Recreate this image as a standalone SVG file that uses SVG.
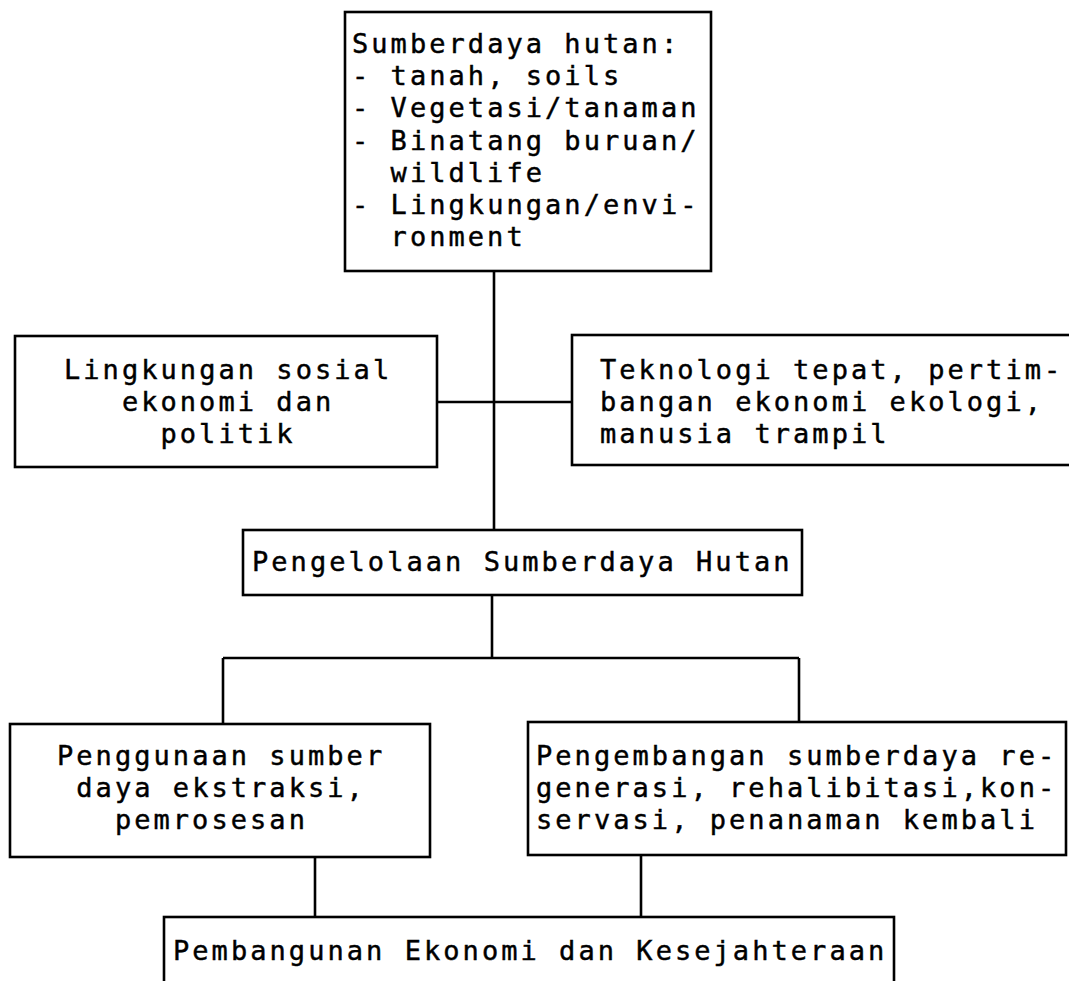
<svg xmlns="http://www.w3.org/2000/svg" width="1069" height="981" viewBox="0 0 1069 981">
<style>
.box{fill:#fff;stroke:#000;stroke-width:2.6}
.ln{fill:none;stroke:#000;stroke-width:2.6}
text{font-family:"DejaVu Sans Mono","Liberation Mono",monospace;font-size:27px;letter-spacing:3.05px;fill:#000;stroke:#000;stroke-width:0.45}
</style>
<rect width="1069" height="981" fill="#fff"/>
<g id="connectors">
<line class="ln" x1="494" y1="271" x2="494" y2="530"/>
<line class="ln" x1="437" y1="402" x2="572" y2="402"/>
<line class="ln" x1="492" y1="595" x2="492" y2="658"/>
<line class="ln" x1="223" y1="658" x2="799" y2="658"/>
<line class="ln" x1="223" y1="658" x2="223" y2="724"/>
<line class="ln" x1="799" y1="658" x2="799" y2="722"/>
<line class="ln" x1="315" y1="857" x2="315" y2="917"/>
<line class="ln" x1="641" y1="855" x2="641" y2="917"/>
</g>
<g id="sumberdaya">
<rect class="box" x="345" y="12" width="366" height="259"/>
<text x="352" y="53">Sumberdaya hutan:</text>
<text x="352" y="85">- tanah, soils</text>
<text x="352" y="117">- Vegetasi/tanaman</text>
<text x="352" y="150">- Binatang buruan/</text>
<text x="390.6" y="182">wildlife</text>
<text x="352" y="214">- Lingkungan/envi-</text>
<text x="390.6" y="246">ronment</text>
</g>
<g id="lingkungan">
<rect class="box" x="15" y="336" width="422" height="131"/>
<text x="64" y="379">Lingkungan sosial</text>
<text x="121.9" y="411">ekonomi dan</text>
<text x="160.5" y="443">politik</text>
</g>
<g id="teknologi">
<rect class="box" x="572" y="335" width="510" height="130"/>
<text x="600" y="379">Teknologi tepat, pertim-</text>
<text x="600" y="411">bangan ekonomi ekologi,</text>
<text x="600" y="443">manusia trampil</text>
</g>
<g id="pengelolaan">
<rect class="box" x="243" y="530" width="559" height="65"/>
<text x="252" y="571">Pengelolaan Sumberdaya Hutan</text>
</g>
<g id="penggunaan">
<rect class="box" x="10" y="724" width="420" height="133"/>
<text x="57" y="765">Penggunaan sumber</text>
<text x="76.3" y="797">daya ekstraksi,</text>
<text x="114.9" y="829">pemrosesan</text>
</g>
<g id="pengembangan">
<rect class="box" x="528" y="722" width="538" height="133"/>
<text x="536" y="765">Pengembangan sumberdaya re-</text>
<text x="536" y="797">generasi, rehalibitasi,kon-</text>
<text x="536" y="829">servasi, penanaman kembali</text>
</g>
<g id="pembangunan">
<rect class="box" x="164" y="917" width="730" height="90"/>
<text x="173" y="960">Pembangunan Ekonomi dan Kesejahteraan</text>
</g>
</svg>
